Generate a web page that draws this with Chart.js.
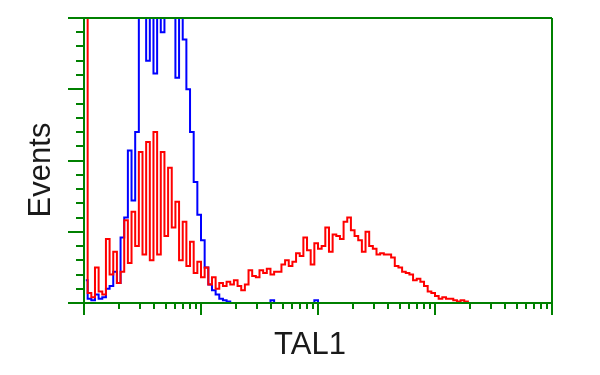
<!DOCTYPE html>
<html>
<head>
<meta charset="utf-8">
<script src="https://cdn.jsdelivr.net/npm/chart.js@4"></script>
<style>
  body { margin: 0; background: #fff; }
</style>
</head>
<body>
<canvas id="hist" width="600" height="375"></canvas>
<script>
// channel centre of each histogram bin (1024 channels over 4 decades)
const channels = [4, 12, 20, 28, 36, 44, 52, 60, 68, 76,
  84, 92, 100, 108, 116, 124, 132, 140, 148, 156,
  164, 172, 180, 188, 196, 204, 212, 220, 228, 236,
  244, 252, 260, 268, 276, 284, 292, 300, 308, 316,
  324, 332, 340, 348, 356, 364, 372, 380, 388, 396,
  404, 412, 420, 428, 436, 444, 452, 460, 468, 476,
  484, 492, 500, 508, 516, 524, 532, 540, 548, 556,
  564, 572, 580, 588, 596, 604, 612, 620, 628, 636,
  644, 652, 660, 668, 676, 684, 692, 700, 708, 716,
  724, 732, 740, 748, 756, 764, 772, 780, 788, 796,
  804, 812, 820, 828, 836, 844];

// TAL1 stained (red)
const redCounts = [300, 7, 4, 25, 8, 6, 45, 20, 36, 14,
  22, 58, 28, 64, 40, 106, 34, 113, 30, 120,
  34, 106, 47, 95, 53, 71, 30, 57, 26, 43,
  21, 29, 18, 25, 13, 18, 10, 14, 12, 15,
  13, 16, 12, 9, 13, 23, 19, 18, 23, 21,
  24, 20, 22, 22, 27, 30, 26, 29, 35, 33,
  46, 37, 27, 42, 38, 40, 53, 36, 48, 47,
  45, 57, 60, 51, 47, 44, 36, 50, 40, 38,
  34, 35, 34, 34, 32, 26, 25, 22, 21, 20,
  16, 17, 15, 12, 8, 7, 5, 3, 4, 3,
  3, 2, 1, 2, 1, 0];

// control (blue)
const blueCounts = [16, 3, 2, 6, 3, 4, 10, 12, 22, 14,
  46, 60, 107, 72, 120, 240, 230, 170, 240, 161,
  240, 190, 250, 260, 260, 158, 250, 185, 150, 120,
  85, 62, 44, 25, 13, 9, 6, 3, 2, 1,
  0, 0, 0, 0, 0, 0, 0, 0, 0, 0,
  0, 2, 0, 0, 0, 0, 0, 0, 0, 0,
  0, 0, 0, 2, 0, 0];

const xMajor = [1, 10, 100, 1000, 10000];
const xMinor = [2, 3, 4, 5, 6, 7, 8, 9,
  20, 30, 40, 50, 60, 70, 80, 90,
  200, 300, 400, 500, 600, 700, 800, 900,
  2000, 3000, 4000, 5000, 6000, 7000, 8000, 9000];
const yMajor = [0, 50, 100, 150, 200];
const yMinor = [10, 20, 30, 40, 60, 70, 80, 90, 110, 120, 130, 140, 160, 170, 180, 190];

const green = '#008000';
const toChannel = v => 256 * Math.log10(v);

const frame = {
  id: 'frame',
  afterDatasetsDraw(chart) {
    const { ctx, chartArea: a, scales: { x, y } } = chart;
    ctx.save();
    ctx.strokeStyle = green;
    ctx.lineWidth = 2;
    ctx.beginPath();
    // top and bottom lines, left axis, right border
    ctx.moveTo(a.left - 16, a.top); ctx.lineTo(a.right, a.top);
    ctx.moveTo(a.left - 16, a.bottom); ctx.lineTo(a.right, a.bottom);
    ctx.moveTo(a.right, a.top); ctx.lineTo(a.right, a.bottom);
    ctx.moveTo(a.left, a.top); ctx.lineTo(a.left, a.bottom);
    xMajor.forEach(v => {
      const px = Math.round(x.getPixelForValue(toChannel(v)));
      ctx.moveTo(px, a.bottom); ctx.lineTo(px, a.bottom + 12);
    });
    xMinor.forEach(v => {
      const px = Math.round(x.getPixelForValue(toChannel(v)));
      ctx.moveTo(px, a.bottom); ctx.lineTo(px, a.bottom + 6);
    });
    yMajor.forEach(v => {
      const py = Math.round(y.getPixelForValue(v));
      ctx.moveTo(a.left - 16, py); ctx.lineTo(a.left, py);
    });
    yMinor.forEach(v => {
      const py = Math.round(y.getPixelForValue(v));
      ctx.moveTo(a.left - 8, py); ctx.lineTo(a.left, py);
    });
    ctx.stroke();

    ctx.fillStyle = '#1a1a1a';
    ctx.font = '31px "Liberation Sans", Arial, sans-serif';
    ctx.textAlign = 'center';
    ctx.textBaseline = 'alphabetic';
    ctx.fillText('TAL1', (a.left - 16 + a.right) / 2, 354);
    ctx.translate(50, 170);
    ctx.rotate(-Math.PI / 2);
    ctx.fillText('Events', 0, 0);
    ctx.restore();
  }
};

new Chart(document.getElementById('hist'), {
  type: 'line',
  data: {
    datasets: [
      { label: 'TAL1', data: redCounts.map((v, i) => ({ x: channels[i], y: v })), borderColor: '#ff0000', borderWidth: 2 },
      { label: 'Control', data: blueCounts.map((v, i) => ({ x: channels[i], y: v })), borderColor: '#0000ff', borderWidth: 2 }
    ]
  },
  options: {
    responsive: false,
    animation: false,
    layout: { padding: { left: 84, right: 48, top: 18, bottom: 72 } },
    elements: { point: { radius: 0 }, line: { stepped: 'middle', fill: false, tension: 0 } },
    scales: {
      x: { type: 'linear', min: 0, max: 1024, display: false },
      y: { min: 0, max: 200, display: false }
    },
    plugins: { legend: { display: false }, tooltip: { enabled: false } }
  },
  plugins: [frame]
});
</script>
</body>
</html>
